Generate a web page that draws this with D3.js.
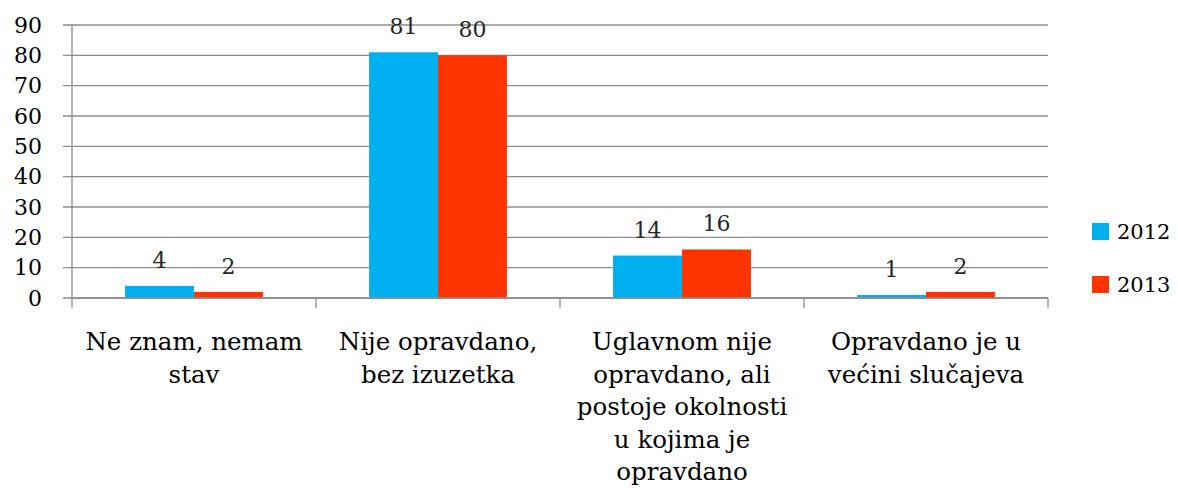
<!DOCTYPE html>
<html>
<head>
<meta charset="utf-8">
<script src="https://cdn.jsdelivr.net/npm/d3@7"></script>
<style>
  body { margin: 0; background: #fff; overflow: hidden; }
  svg { display: block; }
  svg text { font-family: "DejaVu Serif", "Liberation Serif", serif; }
  .grid line { stroke: #8c8c8c; stroke-width: 1.3; }
  .axis path, .axis line { stroke: #8c8c8c; stroke-width: 1.3; }
</style>
</head>
<body>
<div id="chart"></div>
<script>
/* chart values */
var categories = ["c1", "c2", "c3", "c4"];
var categoryLabels = [
    ["Ne znam, nemam", "stav"],
    ["Nije opravdano,", "bez izuzetka"],
    ["Uglavnom nije", "opravdano, ali", "postoje okolnosti", "u kojima je", "opravdano"],
    ["Opravdano je u", "većini slučajeva"]
];
var seriesNames = ["2012", "2013"];
var values2012 = [4, 81, 14, 1];
var values2013 = [2, 80, 16, 2];
var yTicks = [0, 10, 20, 30, 40, 50, 60, 70, 80, 90];
var colors = ["#00b0f0", "#ff3300"];

var width = 1178, height = 503;
var margin = {top: 25, right: 130, bottom: 205, left: 72};
var innerWidth = width - margin.left - margin.right,
    innerHeight = height - margin.top - margin.bottom;

function translate(x, y) {
    return "translate(" + x + "," + y + ")";
}

var x = d3.scaleBand()
    .domain(categories)
    .range([0, innerWidth])
    .paddingInner(0)
    .paddingOuter(0);

var xSeries = d3.scaleBand()
    .domain(seriesNames)
    .range([0, x.bandwidth()])
    .paddingInner(0)
    .paddingOuter(0.77);

var y = d3.scaleLinear()
    .domain([0, 90])
    .range([innerHeight, 0]);

var svg = d3.select("#chart").append("svg")
    .attr("width", width)
    .attr("height", height)
    .attr("font-family", "DejaVu Serif, serif");

var inner = svg.append("g")
    .attr("transform", translate(margin.left, margin.top));

/* gridlines (extend left of the axis like tick marks) */
inner.append("g")
    .attr("class", "grid")
    .selectAll("line")
    .data(yTicks)
  .enter().append("line")
    .attr("x1", -9)
    .attr("x2", innerWidth)
    .attr("y1", function(d) { return y(d); })
    .attr("y2", function(d) { return y(d); });

/* y axis */
var yAxis = d3.axisLeft(y)
    .tickValues(yTicks)
    .tickSize(0)
    .tickPadding(30);

var yg = inner.append("g")
    .attr("class", "axis")
    .call(yAxis)
    .attr("font-family", null)
    .attr("font-size", null);
yg.select(".domain").attr("d", "M0," + (innerHeight + 10) + "V0");
yg.selectAll("text")
    .attr("font-size", 22)
    .attr("fill", "#000");

/* bars */
var seriesData = [values2012, values2013];
var groups = inner.selectAll(".cat")
    .data(categories)
  .enter().append("g")
    .attr("class", "cat")
    .attr("transform", function(d) { return translate(x(d), 0); });

groups.selectAll("rect")
    .data(function(d, i) {
        return seriesNames.map(function(s, j) { return {s: s, v: seriesData[j][i], j: j}; });
    })
  .enter().append("rect")
    .attr("x", function(d) { return xSeries(d.s); })
    .attr("y", function(d) { return y(d.v); })
    .attr("width", xSeries.bandwidth())
    .attr("height", function(d) { return innerHeight - y(d.v); })
    .attr("fill", function(d) { return colors[d.j]; });

groups.selectAll(".val")
    .data(function(d, i) {
        return seriesNames.map(function(s, j) { return {s: s, v: seriesData[j][i]}; });
    })
  .enter().append("text")
    .attr("class", "val")
    .attr("x", function(d) { return xSeries(d.s) + xSeries.bandwidth() / 2; })
    .attr("y", function(d) { return y(d.v) - 18; })
    .attr("text-anchor", "middle")
    .attr("font-size", 22)
    .attr("fill", "#262626")
    .text(function(d) { return d.v; });

/* x axis: baseline plus category tick marks */
var xg = inner.append("g")
    .attr("class", "axis")
    .attr("transform", translate(0, innerHeight));
xg.append("line")
    .attr("x1", 0).attr("x2", innerWidth)
    .attr("y1", 0).attr("y2", 0);
xg.selectAll(".tk")
    .data(categories.slice(1).concat([null]))
  .enter().append("line")
    .attr("class", "tk")
    .attr("x1", function(d) { return d ? x(d) : innerWidth; })
    .attr("x2", function(d) { return d ? x(d) : innerWidth; })
    .attr("y1", 0).attr("y2", 10);

/* category labels */
var lbl = xg.selectAll(".lbl")
    .data(categories)
  .enter().append("text")
    .attr("class", "lbl")
    .attr("text-anchor", "middle")
    .attr("font-size", 24.5)
    .attr("fill", "#000")
    .attr("transform", function(d) { return translate(x(d) + x.bandwidth() / 2, 52); });

lbl.selectAll("tspan")
    .data(function(d, i) { return categoryLabels[i]; })
  .enter().append("tspan")
    .attr("x", 0)
    .attr("y", function(d, i) { return i * 32.5; })
    .text(function(d) { return d; });

/* legend */
var legend = svg.append("g")
    .attr("transform", translate(1092, 223));
var item = legend.selectAll("g")
    .data(seriesNames)
  .enter().append("g")
    .attr("transform", function(d, i) { return translate(0, i * 53); });
item.append("rect")
    .attr("width", 17).attr("height", 17)
    .attr("fill", function(d, i) { return colors[i]; });
item.append("text")
    .attr("x", 25)
    .attr("y", 16)
    .attr("font-size", 21)
    .attr("fill", "#000")
    .text(function(d) { return d; });
</script>
</body>
</html>
